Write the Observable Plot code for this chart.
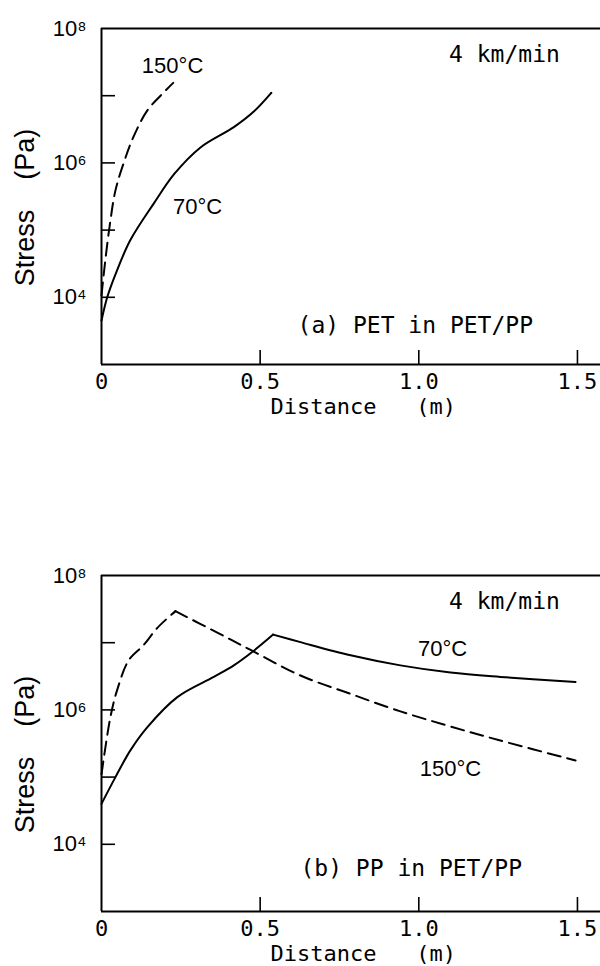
<!DOCTYPE html>
<html>
<head>
<meta charset="utf-8">
<script src="https://cdn.jsdelivr.net/npm/d3@7"></script>
<script src="https://cdn.jsdelivr.net/npm/@observablehq/plot@0.6"></script>
<style>
  body { margin: 0; background: #fff; }
  #chart svg { display: block; }
  svg text { white-space: pre; }
</style>
</head>
<body>
<div id="chart"></div>
<script>
// ---- tick values ----
const xTickValues = [0, 0.5, 1.0, 1.5];
const xInnerTicks = [0.5, 1.0, 1.5];
const yLabelValues = [1e4, 1e6, 1e8];
const yDecadeTicks = [1e4, 1e5, 1e6, 1e7];

// ---- panel (a) PET in PET/PP ----
const distA70    = [0, 0.018, 0.044, 0.091, 0.165, 0.23, 0.312, 0.417, 0.48, 0.535];
const stressA70  = [4500, 1.0e4, 2.2e4, 7.1e4, 2.5e5, 6.9e5, 1.7e6, 3.4e6, 5.8e6, 1.1e7];
const distA150   = [0, 0.013, 0.028, 0.044, 0.07, 0.1, 0.144, 0.186, 0.226];
const stressA150 = [1.07e4, 3.9e4, 1.38e5, 3.9e5, 1.0e6, 2.4e6, 6.0e6, 1.0e7, 1.55e7];

// ---- panel (b) PP in PET/PP ----
const distB70    = [0, 0.044, 0.091, 0.144, 0.239, 0.354, 0.417, 0.48, 0.541, 0.627, 0.785, 0.942, 1.10, 1.257, 1.494];
const stressB70  = [4.0e4, 1.0e5, 2.5e5, 5.5e5, 1.55e6, 3.1e6, 4.6e6, 7.6e6, 1.32e7, 1.02e7, 6.5e6, 4.6e6, 3.6e6, 3.1e6, 2.6e6];
const distB150   = [0, 0.028, 0.049, 0.086, 0.133, 0.176, 0.233, 0.365, 0.47, 0.627, 0.785, 0.942, 1.10, 1.257, 1.494];
const stressB150 = [1.1e5, 7.8e5, 1.95e6, 5.5e6, 9.25e6, 1.66e7, 2.95e7, 1.41e7, 7.8e6, 3.25e6, 1.73e6, 9.5e5, 5.66e5, 3.5e5, 1.77e5];

const sup = {"4": "\u2074", "6": "\u2076", "8": "\u2078"};
const yFmt = d => "10" + sup[String(Math.round(Math.log10(d)))];
const xFmt = d => d === 0 ? "0" : d.toFixed(1);

const MONO = "DejaVu Sans Mono";
const SANS = "Liberation Sans";
const W = 600, ML = 101, MR = 0;
const PX_PER_M = 317.3;
const FRAME_H = 336;

// split each curve at its peak so the corner stays sharp
function rows(xs, ys) {
  const peak = d3.maxIndex(ys);
  const out = [];
  xs.forEach((x, i) => {
    if (i <= peak) out.push({d: x, s: ys[i], seg: 0});
    if (i >= peak) out.push({d: x, s: ys[i], seg: 1});
  });
  return out;
}

function panel({height, marginTop, d70, s70, d150, s150, notes, captionText, captionPos}) {
  const marginBottom = height - marginTop - FRAME_H;
  return Plot.plot({
    width: W,
    height,
    marginLeft: ML,
    marginRight: MR,
    marginTop,
    marginBottom,
    x: {domain: [0, (W - ML - MR) / PX_PER_M]},
    y: {type: "log", domain: [1e3, 1e8]},
    style: {background: "#fff", color: "#000"},
    marks: [
      Plot.ruleY([1e8], {stroke: "#000", strokeWidth: 2}),
      Plot.ruleY([1e3], {stroke: "#000", strokeWidth: 2}),
      Plot.ruleX([0], {stroke: "#000", strokeWidth: 2}),
      Plot.tickY(yDecadeTicks, {y: d => d, insetRight: (W - ML - MR) - 14, stroke: "#000", strokeWidth: 1.6}),
      Plot.tickX(xInnerTicks, {x: d => d, insetTop: FRAME_H - 14, stroke: "#000", strokeWidth: 1.6}),
      Plot.axisY(yLabelValues, {tickSize: 0, tickPadding: 15, tickFormat: yFmt, label: null,
        fontSize: 22, fontFamily: SANS}),
      Plot.axisX(xTickValues, {tickSize: 0, tickPadding: 9, tickFormat: xFmt, label: null,
        fontSize: 22, fontFamily: MONO}),
      Plot.text(["Stress    (Pa)"], {text: d => d, frameAnchor: "left", y: 2.17e5, dx: -76,
        rotate: -90, textAnchor: "middle", lineAnchor: "middle", fontSize: 27, fontFamily: SANS}),
      Plot.text(["Distance   (m)"], {text: d => d, frameAnchor: "bottom", x: 0.533, dy: 42,
        textAnchor: "start", lineAnchor: "middle", fontSize: 22, fontFamily: MONO}),
      Plot.line(rows(d70, s70), {x: "d", y: "s", z: "seg", stroke: "#000", strokeWidth: 2, curve: "catmull-rom"}),
      Plot.line(rows(d150, s150), {x: "d", y: "s", z: "seg", stroke: "#000", strokeWidth: 2,
        strokeDasharray: "13,7", curve: "catmull-rom"}),
      Plot.text(["4 km/min"], {text: d => d, x: 1.27, y: 4.1e7, fontSize: 23, fontFamily: MONO}),
      ...notes.map(n => Plot.text([n.t], {text: d => d, x: n.x, y: n.y, fontSize: 22, fontFamily: SANS})),
      Plot.text([captionText], {text: d => d, x: captionPos[0], y: captionPos[1], textAnchor: "start",
        fontSize: 23, fontFamily: MONO})
    ]
  });
}

const chart = document.getElementById("chart");
chart.append(panel({
  height: 470, marginTop: 28,
  d70: distA70, s70: stressA70, d150: distA150, s150: stressA150,
  notes: [{t: "150°C", x: 0.224, y: 2.8e7}, {t: "70°C", x: 0.303, y: 2.2e5}],
  captionText: "(a) PET in PET/PP", captionPos: [0.618, 3.8e3]
}));
chart.append(panel({
  height: 496, marginTop: 105,
  d70: distB70, s70: stressB70, d150: distB150, s150: stressB150,
  notes: [{t: "70°C", x: 1.075, y: 8.2e6}, {t: "150°C", x: 1.10, y: 1.34e5}],
  captionText: "(b) PP in PET/PP", captionPos: [0.627, 4.36e3]
}));
</script>
</body>
</html>
